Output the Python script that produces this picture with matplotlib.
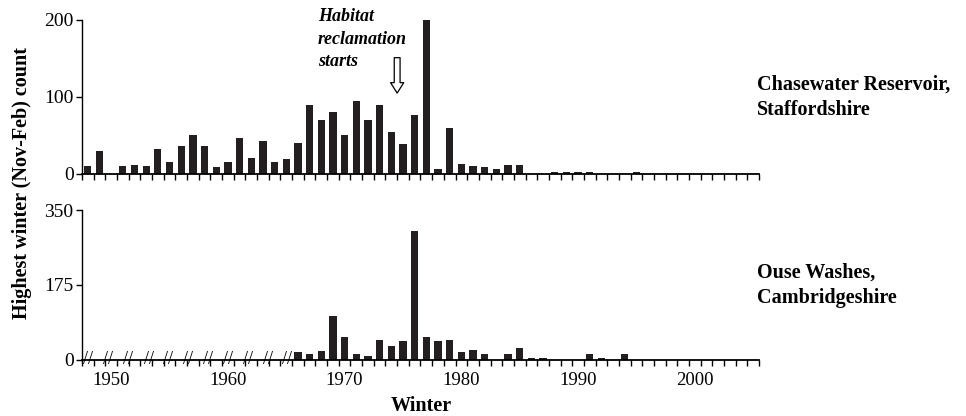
import numpy as np
import matplotlib
matplotlib.use("Agg")
import matplotlib.pyplot as plt
from matplotlib.ticker import FixedLocator

plt.rcParams["font.family"] = ["Liberation Serif", "DejaVu Serif"]

# Chasewater Reservoir, Staffordshire
years_top = [1948, 1949, 1951, 1952, 1953, 1954, 1955, 1956, 1957, 1958, 1959,
             1960, 1961, 1962, 1963, 1964, 1965, 1966, 1967, 1968, 1969, 1970,
             1971, 1972, 1973, 1974, 1975, 1976, 1977, 1978, 1979, 1980, 1981,
             1982, 1983, 1984, 1985, 1988, 1989, 1990, 1991, 1995]
counts_top = [10, 30, 10, 12, 10, 32, 16, 36, 51, 36, 9,
              15, 47, 21, 43, 16, 19, 40, 90, 70, 80, 51,
              95, 70, 90, 55, 39, 76, 200, 7, 60, 13, 10,
              9, 7, 12, 12, 2, 2, 2, 2, 2]

# Ouse Washes, Cambridgeshire
years_bot = [1966, 1967, 1968, 1969, 1970, 1971, 1972, 1973, 1974, 1975, 1976,
             1977, 1978, 1979, 1980, 1981, 1982, 1984, 1985, 1986, 1987, 1991,
             1992, 1994]
counts_bot = [18, 13, 20, 103, 53, 13, 9, 46, 33, 43, 300,
              53, 43, 46, 18, 24, 14, 13, 27, 5, 5, 13,
              5, 14]

# no-data years in the Ouse Washes series (drawn as // marks)
break_years = [1948.0, 1949.7, 1951.4, 1953.2, 1954.9, 1956.6, 1958.3,
               1960.0, 1961.7, 1963.4, 1965.1]

site_labels = ["Chasewater Reservoir,\nStaffordshire", "Ouse Washes,\nCambridgeshire"]
xlim = (1947.5, 2005.5)
bar_color = "#231f20"

fig = plt.figure(figsize=(9.66, 4.16), dpi=100)
ax1 = fig.add_axes([0.0849, 0.582, 0.7008, 0.370])
ax2 = fig.add_axes([0.0849, 0.135, 0.7008, 0.360])


def style_axis(ax, ymax, yticks):
    ax.set_xlim(*xlim)
    ax.set_ylim(0, ymax)
    ax.set_yticks(yticks)
    for s in ("top", "right"):
        ax.spines[s].set_visible(False)
    ax.spines["left"].set_linewidth(1.0)
    ax.spines["bottom"].set_linewidth(1.3)
    ax.xaxis.set_major_locator(FixedLocator(range(1950, 2001, 10)))
    ax.xaxis.set_minor_locator(FixedLocator(np.arange(xlim[0], xlim[1] + 0.1, 1.0)))
    ax.tick_params(axis="x", which="major", length=0, labelsize=13.5, pad=9)
    ax.tick_params(axis="x", which="minor", length=4, width=1.0, direction="out")
    ax.tick_params(axis="y", length=4, width=1.0, labelsize=14, pad=2)


ax1.bar(years_top, counts_top, width=0.62, color=bar_color)
style_axis(ax1, 200, [0, 100, 200])
ax1.tick_params(axis="x", which="major", labelbottom=False)

ax2.bar(years_bot, counts_bot, width=0.62, color=bar_color)
style_axis(ax2, 350, [0, 175, 350])
for bx in break_years:
    ax2.text(bx, 0, "//", ha="center", va="center", fontsize=13,
             clip_on=False)

# annotation on the top panel
ax1.text(1967.7, 215, "Habitat\nreclamation\nstarts", ha="left", va="top",
         fontsize=13, fontweight="bold", fontstyle="italic", linespacing=1.4)
ax1.annotate("", xy=(1974.5, 105), xytext=(1974.5, 151),
             arrowprops=dict(arrowstyle="simple,head_length=0.75,head_width=0.95,tail_width=0.42",
                             mutation_scale=10, fc="white", ec="black", lw=0.9,
                             shrinkA=0, shrinkB=0))

fig.text(757 / 966, 1 - 97 / 416, site_labels[0], ha="left", va="center",
         fontsize=14.5, fontweight="bold", linespacing=1.35)
fig.text(757 / 966, 1 - 285 / 416, site_labels[1], ha="left", va="center",
         fontsize=14.5, fontweight="bold", linespacing=1.35)

fig.text(22 / 966, 1 - 183 / 416, "Highest winter (Nov-Feb) count", rotation=90,
         ha="center", va="center", fontsize=14.5, fontweight="bold")
fig.text(421 / 966, 1 - 411 / 416, "Winter", ha="center", va="baseline",
         fontsize=14.5, fontweight="bold")

fig.savefig("out.png", dpi=100)
